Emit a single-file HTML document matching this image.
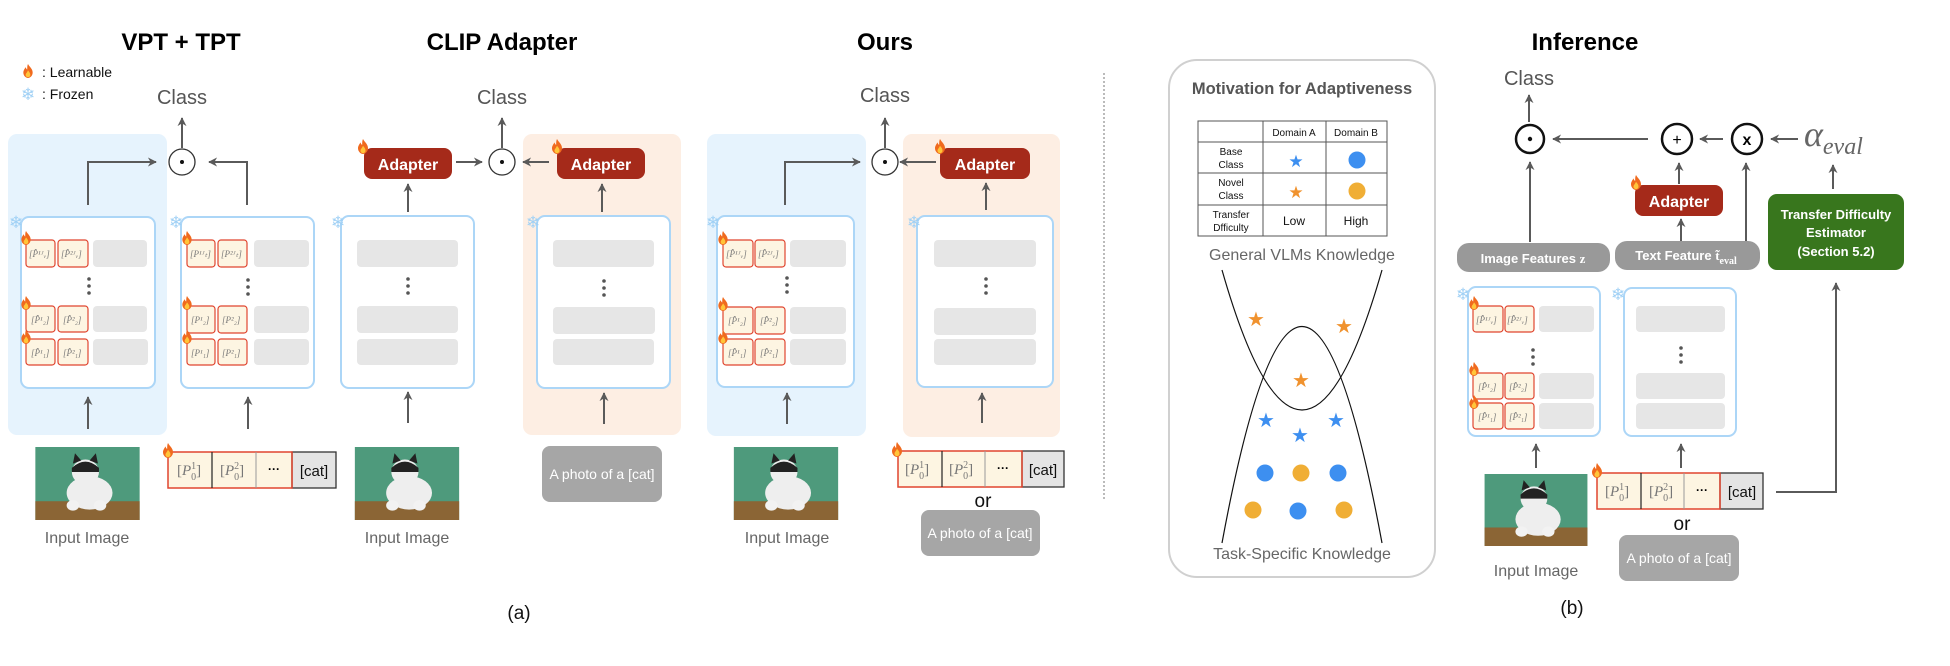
<!DOCTYPE html>
<html><head><meta charset="utf-8"><style>
html,body{margin:0;padding:0;background:#fff;}
svg{display:block;font-family:"Liberation Sans","DejaVu Sans",sans-serif;}
.lbl{fill:#555;font-size:20px;}
.in{fill:#666;font-size:16px;}
.ttl{font-weight:bold;font-size:24px;fill:#000;}
.ad{fill:#a52a1a;}
.adt{fill:#fff;font-weight:bold;font-size:16px;}
.pr{fill:#fdf5e2;stroke:#e0452f;stroke-width:1.2;}
.gr{fill:#e6e6e6;}
.enc{fill:#fff;stroke:#acd6f7;stroke-width:2;}
.pt{font-family:"Liberation Serif",serif;font-style:italic;font-size:9px;fill:#777;}
.tk{font-family:"Liberation Serif",serif;font-size:15px;fill:#777;}
.ln{stroke:#5a5a5a;stroke-width:2;fill:none;}
.dot{fill:#555;}
.snow{fill:#9fd0f5;font-size:17px;font-family:"DejaVu Sans",sans-serif;}
</style></head><body>
<svg width="1950" height="666" viewBox="0 0 1950 666" xmlns="http://www.w3.org/2000/svg">
<defs>
<marker id="ah" viewBox="0 0 10 10" refX="9" refY="5" markerWidth="4.5" markerHeight="4.5" orient="auto"><path d="M0,0 L10,5 L0,10 L3,5 z" fill="#5a5a5a"/></marker>
<symbol id="fire" viewBox="0 0 14 18"><path d="M7,0 C9,4 13,6 13,11 C13,15 10,18 7,18 C4,18 1,15 1,11 C1,8 3,6 4,4 C5,7 6,7 6,7 C6,4 6,2 7,0z" fill="#f06a1e"/><path d="M7,8 C8,10 10,11 10,14 C10,16 8.5,17 7,17 C5.5,17 4,16 4,14 C4,12 6,11 7,8z" fill="#ffc53a"/></symbol>
<symbol id="cat" viewBox="0 0 100 70"><rect width="100" height="70" fill="#4e9a7c"/><rect y="52" width="100" height="18" fill="#8b6535"/><ellipse cx="52" cy="44" rx="22" ry="16" fill="#eee"/><ellipse cx="48" cy="24" rx="13" ry="12" fill="#eee"/><path d="M35,20 Q48,8 61,20 L61,24 L35,24z" fill="#222"/><path d="M36,16 L38,6 L44,13z M60,16 L58,6 L52,13z" fill="#222"/><ellipse cx="36" cy="56" rx="6" ry="5" fill="#f2f2f2"/><ellipse cx="62" cy="56" rx="6" ry="5" fill="#f2f2f2"/></symbol>
</defs>

<!-- ===== VPT + TPT ===== -->
<text class="ttl" x="181" y="50" text-anchor="middle">VPT + TPT</text>
<use href="#fire" x="22" y="64" width="12" height="14"/>
<text x="42" y="77" font-size="14" fill="#111">: Learnable</text>
<text class="snow" x="21" y="100" font-size="14">❄</text>
<text x="42" y="99" font-size="14" fill="#111">: Frozen</text>
<text class="lbl" x="182" y="104" text-anchor="middle">Class</text>
<line class="ln" x1="182" y1="148" x2="182" y2="118" marker-end="url(#ah)"/>
<circle cx="182" cy="162" r="13" fill="#fff" stroke="#333" stroke-width="1.3"/><circle cx="182" cy="162" r="2" fill="#111"/>
<rect x="8" y="134" width="159" height="301" rx="9" fill="#e6f3fd"/>
<polyline class="ln" points="88,205 88,162 156,162" marker-end="url(#ah)"/>
<polyline class="ln" points="247,205 247,162 209,162" marker-end="url(#ah)"/>
<rect class="enc" x="21" y="217" width="134" height="171" rx="8"/>
<text class="snow" x="9" y="228">❄</text>
<rect class="pr" x="26" y="240" width="29" height="27" rx="3"/><rect class="pr" x="58" y="240" width="30" height="27" rx="3"/><rect class="gr" x="93" y="240" width="54" height="27" rx="4"/>
<rect class="pr" x="26" y="306" width="29" height="26" rx="3"/><rect class="pr" x="58" y="306" width="30" height="26" rx="3"/><rect class="gr" x="93" y="306" width="54" height="26" rx="4"/>
<rect class="pr" x="26" y="339" width="29" height="26" rx="3"/><rect class="pr" x="58" y="339" width="30" height="26" rx="3"/><rect class="gr" x="93" y="339" width="55" height="26" rx="4"/>
<text class="pt" x="29" y="257">[P̂¹ᴶᵥ]</text><text class="pt" x="61" y="257">[P̂²ᴶᵥ]</text>
<text class="pt" x="31" y="323">[P̂¹₂]</text><text class="pt" x="63" y="323">[P̂²₂]</text>
<text class="pt" x="31" y="356">[P̂¹₁]</text><text class="pt" x="63" y="356">[P̂²₁]</text>
<use href="#fire" x="20" y="231" width="12" height="14"/><use href="#fire" x="20" y="296" width="12" height="14"/><use href="#fire" x="20" y="330" width="12" height="14"/>
<circle class="dot" cx="89" cy="279" r="1.8"/><circle class="dot" cx="89" cy="286" r="1.8"/><circle class="dot" cx="89" cy="293" r="1.8"/>
<line class="ln" x1="88" y1="429" x2="88" y2="397" marker-end="url(#ah)"/>
<use href="#cat" x="35" y="447" width="105" height="73" preserveAspectRatio="none"/>
<text class="in" x="87" y="543" text-anchor="middle">Input Image</text>
<rect class="enc" x="181" y="217" width="133" height="171" rx="8"/>
<text class="snow" x="169" y="228">❄</text>
<rect class="pr" x="187" y="240" width="28" height="27" rx="3"/><rect class="pr" x="218" y="240" width="29" height="27" rx="3"/><rect class="gr" x="254" y="240" width="55" height="27" rx="4"/>
<rect class="pr" x="187" y="306" width="28" height="27" rx="3"/><rect class="pr" x="218" y="306" width="29" height="27" rx="3"/><rect class="gr" x="254" y="306" width="55" height="27" rx="4"/>
<rect class="pr" x="187" y="339" width="28" height="26" rx="3"/><rect class="pr" x="218" y="339" width="29" height="26" rx="3"/><rect class="gr" x="254" y="339" width="55" height="26" rx="4"/>
<text class="pt" x="190" y="257">[P¹ᴶₜ]</text><text class="pt" x="221" y="257">[P²ᴶₜ]</text>
<text class="pt" x="191" y="323">[P¹₂]</text><text class="pt" x="222" y="323">[P²₂]</text>
<text class="pt" x="191" y="356">[P¹₁]</text><text class="pt" x="222" y="356">[P²₁]</text>
<use href="#fire" x="181" y="231" width="12" height="14"/><use href="#fire" x="181" y="296" width="12" height="14"/><use href="#fire" x="181" y="330" width="12" height="14"/>
<circle class="dot" cx="248" cy="280" r="1.8"/><circle class="dot" cx="248" cy="287" r="1.8"/><circle class="dot" cx="248" cy="294" r="1.8"/>
<line class="ln" x1="248" y1="429" x2="248" y2="397" marker-end="url(#ah)"/>
<rect x="168" y="452" width="124" height="36" fill="#fdf5e2"/>
<rect x="292" y="452" width="44" height="36" fill="#e4e4e4" stroke="#333" stroke-width="1.3"/>
<rect x="168" y="452" width="124" height="36" fill="none" stroke="#e0452f" stroke-width="1.5"/>
<line x1="212" y1="452" x2="212" y2="488" stroke="#222" stroke-width="1.2"/><line x1="256" y1="452" x2="256" y2="488" stroke="#999" stroke-width="1"/>
<text class="tk" x="177" y="475">[<tspan font-style="italic">P</tspan><tspan font-size="10" dy="-6">1</tspan><tspan font-size="10" dx="-5" dy="11">0</tspan><tspan dy="-5">]</tspan></text>
<text class="tk" x="220" y="475">[<tspan font-style="italic">P</tspan><tspan font-size="10" dy="-6">2</tspan><tspan font-size="10" dx="-5" dy="11">0</tspan><tspan dy="-5">]</tspan></text>
<text x="274" y="473" font-size="12" text-anchor="middle" font-weight="bold">···</text>
<text x="314" y="476" font-size="15" text-anchor="middle" fill="#111">[cat]</text>
<use href="#fire" x="162" y="443" width="12" height="15"/>

<!-- ===== CLIP Adapter ===== -->
<text class="ttl" x="502" y="50" text-anchor="middle">CLIP Adapter</text>
<text class="lbl" x="502" y="104" text-anchor="middle">Class</text>
<line class="ln" x1="502" y1="148" x2="502" y2="118" marker-end="url(#ah)"/>
<circle cx="502" cy="162" r="13" fill="#fff" stroke="#333" stroke-width="1.3"/><circle cx="502" cy="162" r="2" fill="#111"/>
<rect class="ad" x="364" y="148" width="88" height="31" rx="8"/><text class="adt" x="408" y="170" text-anchor="middle">Adapter</text>
<use href="#fire" x="357" y="139" width="12" height="15"/>
<line class="ln" x1="456" y1="162" x2="482" y2="162" marker-end="url(#ah)"/>
<rect x="523" y="134" width="158" height="301" rx="9" fill="#fdeee3"/>
<rect class="ad" x="557" y="148" width="88" height="31" rx="8"/><text class="adt" x="601" y="170" text-anchor="middle">Adapter</text>
<use href="#fire" x="551" y="139" width="12" height="15"/>
<line class="ln" x1="549" y1="162" x2="523" y2="162" marker-end="url(#ah)"/>
<rect class="enc" x="341" y="216" width="133" height="172" rx="8"/>
<text class="snow" x="331" y="228">❄</text>
<rect class="gr" x="357" y="240" width="101" height="27" rx="4"/><rect class="gr" x="357" y="306" width="101" height="27" rx="4"/><rect class="gr" x="357" y="339" width="101" height="26" rx="4"/>
<circle class="dot" cx="408" cy="279" r="1.8"/><circle class="dot" cx="408" cy="286" r="1.8"/><circle class="dot" cx="408" cy="293" r="1.8"/>
<line class="ln" x1="408" y1="212" x2="408" y2="184" marker-end="url(#ah)"/>
<line class="ln" x1="408" y1="423" x2="408" y2="392" marker-end="url(#ah)"/>
<use href="#cat" x="354" y="447" width="106" height="73" preserveAspectRatio="none"/>
<text class="in" x="407" y="543" text-anchor="middle">Input Image</text>
<rect class="enc" x="537" y="216" width="133" height="172" rx="8"/>
<text class="snow" x="526" y="228">❄</text>
<rect class="gr" x="553" y="240" width="101" height="27" rx="4"/><rect class="gr" x="553" y="307" width="102" height="27" rx="4"/><rect class="gr" x="553" y="339" width="101" height="26" rx="4"/>
<circle class="dot" cx="604" cy="281" r="1.8"/><circle class="dot" cx="604" cy="288" r="1.8"/><circle class="dot" cx="604" cy="295" r="1.8"/>
<line class="ln" x1="602" y1="212" x2="602" y2="184" marker-end="url(#ah)"/>
<line class="ln" x1="604" y1="424" x2="604" y2="393" marker-end="url(#ah)"/>
<rect x="542" y="446" width="120" height="56" rx="8" fill="#a6a6a6"/>
<text x="602" y="479" font-size="14" fill="#fff" text-anchor="middle">A photo of a [cat]</text>
<text x="519" y="619" font-size="19" text-anchor="middle" fill="#111">(a)</text>

<!-- ===== Ours ===== -->
<text class="ttl" x="885" y="50" text-anchor="middle">Ours</text>
<text class="lbl" x="885" y="102" text-anchor="middle">Class</text>
<line class="ln" x1="885" y1="148" x2="885" y2="118" marker-end="url(#ah)"/>
<circle cx="885" cy="162" r="13" fill="#fff" stroke="#333" stroke-width="1.3"/><circle cx="885" cy="162" r="2" fill="#111"/>
<rect x="707" y="134" width="159" height="302" rx="9" fill="#e6f3fd"/>
<polyline class="ln" points="785,205 785,162 860,162" marker-end="url(#ah)"/>
<rect class="enc" x="717" y="216" width="137" height="171" rx="8"/>
<text class="snow" x="706" y="228">❄</text>
<rect class="pr" x="723" y="240" width="30" height="27" rx="3"/><rect class="pr" x="755" y="240" width="30" height="27" rx="3"/><rect class="gr" x="790" y="240" width="56" height="27" rx="4"/>
<rect class="pr" x="723" y="307" width="30" height="27" rx="3"/><rect class="pr" x="755" y="307" width="30" height="27" rx="3"/><rect class="gr" x="790" y="307" width="56" height="27" rx="4"/>
<rect class="pr" x="723" y="339" width="30" height="26" rx="3"/><rect class="pr" x="755" y="339" width="30" height="26" rx="3"/><rect class="gr" x="790" y="339" width="56" height="26" rx="4"/>
<text class="pt" x="726" y="257">[P̂¹ᴶᵥ]</text><text class="pt" x="758" y="257">[P̂²ᴶᵥ]</text>
<text class="pt" x="728" y="324">[P̂¹₂]</text><text class="pt" x="760" y="324">[P̂²₂]</text>
<text class="pt" x="728" y="356">[P̂¹₁]</text><text class="pt" x="760" y="356">[P̂²₁]</text>
<use href="#fire" x="717" y="231" width="12" height="14"/><use href="#fire" x="717" y="297" width="12" height="14"/><use href="#fire" x="717" y="330" width="12" height="14"/>
<circle class="dot" cx="787" cy="278" r="1.8"/><circle class="dot" cx="787" cy="285" r="1.8"/><circle class="dot" cx="787" cy="292" r="1.8"/>
<line class="ln" x1="787" y1="424" x2="787" y2="393" marker-end="url(#ah)"/>
<use href="#cat" x="732" y="447" width="108" height="73" preserveAspectRatio="none"/>
<text class="in" x="787" y="543" text-anchor="middle">Input Image</text>
<rect x="903" y="134" width="157" height="303" rx="9" fill="#fdeee3"/>
<rect class="ad" x="940" y="148" width="90" height="31" rx="8"/><text class="adt" x="985" y="170" text-anchor="middle">Adapter</text>
<use href="#fire" x="934" y="139" width="12" height="15"/>
<line class="ln" x1="936" y1="162" x2="900" y2="162" marker-end="url(#ah)"/>
<rect class="enc" x="917" y="216" width="136" height="171" rx="8"/>
<text class="snow" x="907" y="228">❄</text>
<rect class="gr" x="934" y="240" width="102" height="27" rx="4"/><rect class="gr" x="934" y="308" width="102" height="27" rx="4"/><rect class="gr" x="934" y="339" width="102" height="26" rx="4"/>
<circle class="dot" cx="986" cy="279" r="1.8"/><circle class="dot" cx="986" cy="286" r="1.8"/><circle class="dot" cx="986" cy="293" r="1.8"/>
<line class="ln" x1="986" y1="210" x2="986" y2="183" marker-end="url(#ah)"/>
<line class="ln" x1="982" y1="423" x2="982" y2="393" marker-end="url(#ah)"/>
<rect x="898" y="451" width="124" height="36" fill="#fdf5e2"/>
<rect x="1022" y="451" width="42" height="36" fill="#e4e4e4" stroke="#333" stroke-width="1.3"/>
<rect x="898" y="451" width="124" height="36" fill="none" stroke="#e0452f" stroke-width="1.5"/>
<line x1="942" y1="451" x2="942" y2="487" stroke="#222" stroke-width="1.2"/><line x1="985" y1="451" x2="985" y2="487" stroke="#999" stroke-width="1"/>
<text class="tk" x="905" y="474">[<tspan font-style="italic">P</tspan><tspan font-size="10" dy="-6">1</tspan><tspan font-size="10" dx="-5" dy="11">0</tspan><tspan dy="-5">]</tspan></text>
<text class="tk" x="949" y="474">[<tspan font-style="italic">P</tspan><tspan font-size="10" dy="-6">2</tspan><tspan font-size="10" dx="-5" dy="11">0</tspan><tspan dy="-5">]</tspan></text>
<text x="1003" y="472" font-size="12" text-anchor="middle" font-weight="bold">···</text>
<text x="1043" y="475" font-size="15" text-anchor="middle" fill="#111">[cat]</text>
<use href="#fire" x="891" y="442" width="12" height="15"/>
<text x="983" y="507" font-size="19" text-anchor="middle" fill="#111">or</text>
<rect x="921" y="510" width="119" height="46" rx="8" fill="#a6a6a6"/>
<text x="980" y="538" font-size="14" fill="#fff" text-anchor="middle">A photo of a [cat]</text>

<line x1="1104" y1="73" x2="1104" y2="500" stroke="#777" stroke-width="1" stroke-dasharray="2,2"/>

<!-- ===== Motivation ===== -->
<rect x="1169" y="60" width="266" height="517" rx="28" fill="#fff" stroke="#d0d0d0" stroke-width="2"/>
<text x="1302" y="94" font-size="16.5" font-weight="bold" fill="#555" text-anchor="middle">Motivation for Adaptiveness</text>
<g stroke="#555" stroke-width="1" fill="none">
<rect x="1198" y="121" width="189" height="115"/>
<line x1="1263" y1="121" x2="1263" y2="236"/><line x1="1326" y1="121" x2="1326" y2="236"/>
<line x1="1198" y1="142" x2="1387" y2="142"/><line x1="1198" y1="173" x2="1387" y2="173"/><line x1="1198" y1="205" x2="1387" y2="205"/>
</g>
<g font-size="10" fill="#111" text-anchor="middle">
<text x="1294" y="136">Domain A</text><text x="1356" y="136">Domain B</text>
<text x="1231" y="155">Base</text><text x="1231" y="168">Class</text>
<text x="1231" y="186">Novel</text><text x="1231" y="199">Class</text>
<text x="1231" y="218">Transfer</text><text x="1231" y="231">Dfficulty</text>
<text x="1294" y="225" font-size="12">Low</text><text x="1356" y="225" font-size="12">High</text>
</g>
<g font-family="DejaVu Sans,sans-serif" text-anchor="middle" font-size="17">
<text x="1296" y="167" fill="#3d8ff0">★</text><text x="1296" y="198" fill="#f0922e">★</text>
</g>
<circle cx="1357" cy="160" r="8.5" fill="#3d8ff0"/><circle cx="1357" cy="191" r="8.5" fill="#f0ae35"/>
<text x="1302" y="260" font-size="16" fill="#666" text-anchor="middle">General VLMs Knowledge</text>
<path d="M1222,270 Q1302,550 1382,270" fill="none" stroke="#111" stroke-width="1.2"/>
<path d="M1222,543 Q1302,110 1382,543" fill="none" stroke="#111" stroke-width="1.2"/>
<g font-family="DejaVu Sans,sans-serif" text-anchor="middle" font-size="20">
<text x="1256" y="326" fill="#f0922e">★</text><text x="1344" y="333" fill="#f0922e">★</text><text x="1301" y="387" fill="#f0922e">★</text>
<text x="1266" y="427" fill="#3d8ff0">★</text><text x="1336" y="427" fill="#3d8ff0">★</text><text x="1300" y="442" fill="#3d8ff0">★</text>
</g>
<circle cx="1265" cy="473" r="8.5" fill="#3d8ff0"/><circle cx="1301" cy="473" r="8.5" fill="#f0ae35"/><circle cx="1338" cy="473" r="8.5" fill="#3d8ff0"/>
<circle cx="1253" cy="510" r="8.5" fill="#f0ae35"/><circle cx="1298" cy="511" r="8.5" fill="#3d8ff0"/><circle cx="1344" cy="510" r="8.5" fill="#f0ae35"/>
<text x="1302" y="559" font-size="16" fill="#666" text-anchor="middle">Task-Specific Knowledge</text>

<!-- ===== Inference ===== -->
<text class="ttl" x="1585" y="50" text-anchor="middle">Inference</text>
<text class="lbl" x="1529" y="85" text-anchor="middle">Class</text>
<line class="ln" x1="1529" y1="122" x2="1529" y2="95" marker-end="url(#ah)"/>
<circle cx="1530" cy="139" r="14" fill="#fff" stroke="#111" stroke-width="2.5"/><circle cx="1530" cy="139" r="2.2" fill="#111"/>
<circle cx="1677" cy="139" r="15" fill="#fff" stroke="#111" stroke-width="2.5"/><text x="1677" y="145" font-size="16" text-anchor="middle">+</text>
<circle cx="1747" cy="139" r="15" fill="#fff" stroke="#111" stroke-width="2.5"/><text x="1747" y="145" font-size="16" font-weight="bold" text-anchor="middle">x</text>
<line class="ln" x1="1648" y1="139" x2="1553" y2="139" marker-end="url(#ah)"/>
<line class="ln" x1="1723" y1="139" x2="1700" y2="139" marker-end="url(#ah)"/>
<line class="ln" x1="1798" y1="139" x2="1771" y2="139" marker-end="url(#ah)"/>
<text x="1804" y="146" font-family="Liberation Serif,serif" font-style="italic" fill="#666" font-size="36">α<tspan font-size="24" dy="8">eval</tspan></text>
<line class="ln" x1="1530" y1="242" x2="1530" y2="162" marker-end="url(#ah)"/>
<rect class="ad" x="1635" y="185" width="88" height="31" rx="8"/><text class="adt" x="1679" y="207" text-anchor="middle">Adapter</text>
<use href="#fire" x="1630" y="175" width="12" height="15"/>
<line class="ln" x1="1679" y1="184" x2="1679" y2="163" marker-end="url(#ah)"/>
<line class="ln" x1="1681" y1="241" x2="1681" y2="219" marker-end="url(#ah)"/>
<line class="ln" x1="1746" y1="241" x2="1746" y2="163" marker-end="url(#ah)"/>
<rect x="1457" y="243" width="153" height="29" rx="12" fill="#999"/>
<text x="1533" y="263" font-size="13" font-weight="bold" fill="#fff" text-anchor="middle">Image Features <tspan font-family="Liberation Serif,serif">z</tspan></text>
<rect x="1615" y="241" width="145" height="29" rx="12" fill="#999"/>
<text x="1686" y="260" font-size="13" font-weight="bold" fill="#fff" text-anchor="middle">Text Feature <tspan font-family="Liberation Serif,serif">t̃</tspan><tspan font-size="10" dy="4" font-family="Liberation Serif,serif">eval</tspan></text>
<rect x="1768" y="194" width="136" height="76" rx="9" fill="#38761d"/>
<g font-size="13" font-weight="bold" fill="#fff" text-anchor="middle">
<text x="1836" y="219">Transfer Difficulty</text><text x="1836" y="237">Estimator</text><text x="1836" y="256">(Section 5.2)</text>
</g>
<line class="ln" x1="1833" y1="189" x2="1833" y2="165" marker-end="url(#ah)"/>
<polyline class="ln" points="1776,492 1836,492 1836,283" marker-end="url(#ah)"/>
<rect class="enc" x="1468" y="287" width="132" height="149" rx="8"/>
<text class="snow" x="1456" y="300">❄</text>
<rect class="pr" x="1473" y="306" width="30" height="26" rx="3"/><rect class="pr" x="1505" y="306" width="29" height="26" rx="3"/><rect class="gr" x="1539" y="306" width="55" height="26" rx="4"/>
<rect class="pr" x="1473" y="373" width="30" height="26" rx="3"/><rect class="pr" x="1505" y="373" width="29" height="26" rx="3"/><rect class="gr" x="1539" y="373" width="55" height="26" rx="4"/>
<rect class="pr" x="1473" y="403" width="30" height="26" rx="3"/><rect class="pr" x="1505" y="403" width="29" height="26" rx="3"/><rect class="gr" x="1539" y="403" width="55" height="26" rx="4"/>
<text class="pt" x="1476" y="323">[P̂¹ᴶᵥ]</text><text class="pt" x="1507" y="323">[P̂²ᴶᵥ]</text>
<text class="pt" x="1478" y="390">[P̂¹₂]</text><text class="pt" x="1509" y="390">[P̂²₂]</text>
<text class="pt" x="1478" y="420">[P̂¹₁]</text><text class="pt" x="1509" y="420">[P̂²₁]</text>
<use href="#fire" x="1468" y="296" width="12" height="14"/><use href="#fire" x="1468" y="362" width="12" height="14"/><use href="#fire" x="1468" y="395" width="12" height="14"/>
<circle class="dot" cx="1533" cy="350" r="1.8"/><circle class="dot" cx="1533" cy="357" r="1.8"/><circle class="dot" cx="1533" cy="364" r="1.8"/>
<line class="ln" x1="1536" y1="468" x2="1536" y2="444" marker-end="url(#ah)"/>
<use href="#cat" x="1483" y="474" width="106" height="72" preserveAspectRatio="none"/>
<text class="in" x="1536" y="576" text-anchor="middle">Input Image</text>
<rect class="enc" x="1624" y="288" width="112" height="148" rx="8"/>
<text class="snow" x="1611" y="300">❄</text>
<rect class="gr" x="1636" y="306" width="89" height="26" rx="4"/><rect class="gr" x="1636" y="373" width="89" height="26" rx="4"/><rect class="gr" x="1636" y="403" width="89" height="26" rx="4"/>
<circle class="dot" cx="1681" cy="348" r="1.8"/><circle class="dot" cx="1681" cy="355" r="1.8"/><circle class="dot" cx="1681" cy="362" r="1.8"/>
<line class="ln" x1="1681" y1="468" x2="1681" y2="444" marker-end="url(#ah)"/>
<rect x="1597" y="473" width="123" height="36" fill="#fdf5e2"/>
<rect x="1720" y="473" width="43" height="36" fill="#e4e4e4" stroke="#333" stroke-width="1.3"/>
<rect x="1597" y="473" width="123" height="36" fill="none" stroke="#e0452f" stroke-width="1.5"/>
<line x1="1641" y1="473" x2="1641" y2="509" stroke="#222" stroke-width="1.2"/><line x1="1684" y1="473" x2="1684" y2="509" stroke="#999" stroke-width="1"/>
<text class="tk" x="1605" y="496">[<tspan font-style="italic">P</tspan><tspan font-size="10" dy="-6">1</tspan><tspan font-size="10" dx="-5" dy="11">0</tspan><tspan dy="-5">]</tspan></text>
<text class="tk" x="1649" y="496">[<tspan font-style="italic">P</tspan><tspan font-size="10" dy="-6">2</tspan><tspan font-size="10" dx="-5" dy="11">0</tspan><tspan dy="-5">]</tspan></text>
<text x="1702" y="494" font-size="12" text-anchor="middle" font-weight="bold">···</text>
<text x="1742" y="497" font-size="15" text-anchor="middle" fill="#111">[cat]</text>
<use href="#fire" x="1591" y="463" width="12" height="15"/>
<text x="1682" y="530" font-size="19" text-anchor="middle" fill="#111">or</text>
<rect x="1619" y="535" width="120" height="46" rx="8" fill="#a6a6a6"/>
<text x="1679" y="563" font-size="14" fill="#fff" text-anchor="middle">A photo of a [cat]</text>
<text x="1572" y="614" font-size="19" text-anchor="middle" fill="#111">(b)</text>
</svg>
</body></html>
